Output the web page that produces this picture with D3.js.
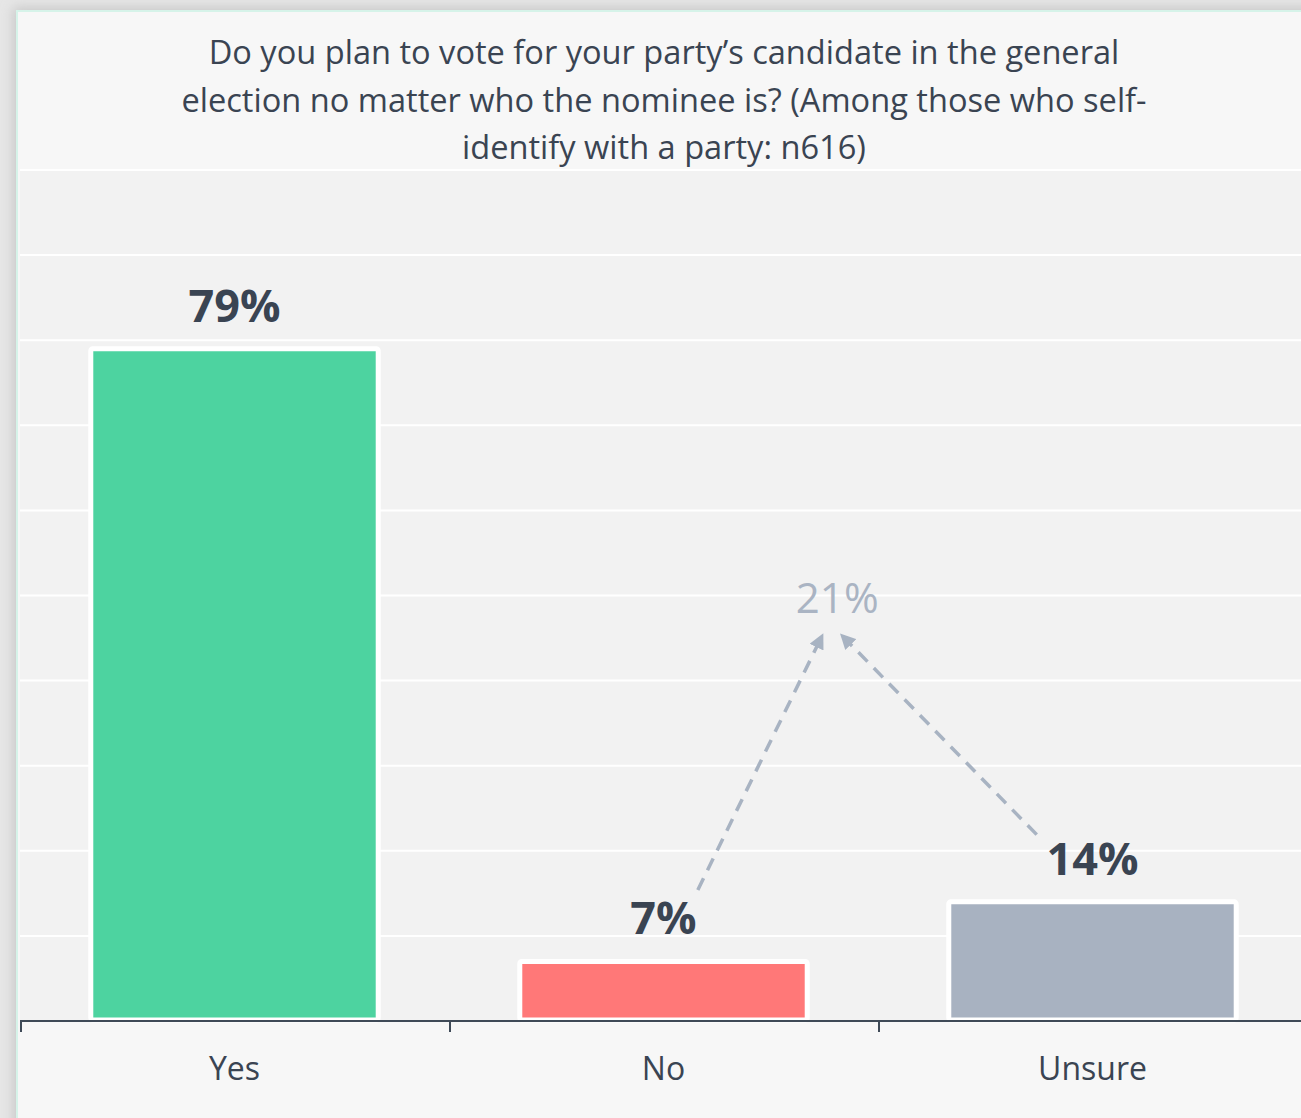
<!DOCTYPE html>
<html><head><meta charset="utf-8">
<script src="https://cdn.jsdelivr.net/npm/d3@7"></script>
<style>
html,body{margin:0;padding:0;background:#e2e2e2;overflow:hidden;}
svg{display:block;}
</style></head>
<body>
<svg id="chart" width="1301" height="1118"></svg>
<script>
// ---- data ----
const categories = ["Yes", "No", "Unsure"];
const values = [79, 7, 14];
const barColors = ["#4dd3a0", "#ff7878", "#a8b2c1"];
const valueLabels = ["79%", "7%", "14%"];
const gridTicks = [0, 10, 20, 30, 40, 50, 60, 70, 80, 90, 100];
const titleLines = [
  "Do you plan to vote for your party\u2019s candidate in the general",
  "election no matter who the nominee is? (Among those who self-",
  "identify with a party: n616)"
];
// annotation: combined No + Unsure
const annotationLabel = "21%";
const annotationValueY = 48;      // label position on value axis
const arrowTipY = 45.4;           // arrow tips on value axis
const arrowStarts = [ {cat: "No", off: 0.08, v: 15.4}, {cat: "Unsure", off: -0.13, v: 21.9} ];
const arrowTipsOff = [-0.034, 0.009]; // fraction of band from the label centre

// ---- layout ----
const W = 1301, H = 1118;
const svg = d3.select("#chart");
const font = "'Open Sans', 'Noto Sans', sans-serif";
const textColor = "#3a4452";

const defs = svg.append("defs");
const f = defs.append("filter").attr("id","sh").attr("x","-10%").attr("y","-10%").attr("width","130%").attr("height","130%");
f.append("feGaussianBlur").attr("stdDeviation", 6);

svg.append("rect").attr("width", W).attr("height", H).attr("fill", "#e6e6e6");
svg.append("rect").attr("x", 13).attr("y", 7).attr("width", 1420).attr("height", 1220)
  .attr("fill", "#c9c9c9").attr("filter", "url(#sh)");
svg.append("rect").attr("x", 17).attr("y", 11).attr("width", 1400).attr("height", 1200)
  .attr("fill", "#f7f7f7").attr("stroke", "#d6f3e9").attr("stroke-width", 2);

const plot = {left: 20, right: 1307, top: 170, bottom: 1021};

const x = d3.scaleBand().domain(categories).range([plot.left, plot.right]).paddingInner(0.33).paddingOuter(0.165);
const xAxisScale = d3.scaleBand().domain(categories).range([plot.left, plot.right]);
const y = d3.scaleLinear().domain([0, 100]).range([plot.bottom, plot.top]);

// plot background
svg.append("rect").attr("x", plot.left).attr("y", plot.top)
  .attr("width", plot.right - plot.left).attr("height", plot.bottom - plot.top).attr("fill", "#f2f2f2");

// gridlines
svg.append("g").selectAll("line").data(gridTicks).join("line")
  .attr("x1", plot.left).attr("x2", plot.right)
  .attr("y1", d => y(d)).attr("y2", d => y(d))
  .attr("stroke", "#ffffff").attr("stroke-width", 2);

// title
svg.append("g").selectAll("text").data(titleLines).join("text")
  .attr("x", 664).attr("y", (d, i) => 64 + i * 47.5)
  .attr("text-anchor", "middle")
  .attr("font-family", font).attr("font-size", 32.6).attr("fill", textColor)
  .text(d => d);

// bars
const data = categories.map((c, i) => ({c, v: values[i], col: barColors[i], lab: valueLabels[i]}));
svg.append("g").selectAll("rect").data(data).join("rect")
  .attr("x", d => x(d.c)).attr("width", x.bandwidth())
  .attr("y", d => y(d.v)).attr("height", d => y(0) - y(d.v) - 1)
  .attr("fill", d => d.col).attr("stroke", "#ffffff").attr("stroke-width", 5)
  .attr("rx", 2);

// value labels
svg.append("g").selectAll("text").data(data).join("text")
  .attr("x", d => x(d.c) + x.bandwidth() / 2).attr("y", d => y(d.v) - 27)
  .attr("text-anchor", "middle")
  .attr("font-family", font).attr("font-weight", 700).attr("font-size", 45).attr("fill", textColor)
  .text(d => d.lab);

// x axis
svg.append("line").attr("x1", plot.left).attr("x2", plot.right).attr("y1", plot.bottom).attr("y2", plot.bottom)
  .attr("stroke", "#3f4a57").attr("stroke-width", 2);
svg.append("g").selectAll("line").data(categories).join("line")
  .attr("x1", d => xAxisScale(d) + 1).attr("x2", d => xAxisScale(d) + 1)
  .attr("y1", plot.bottom).attr("y2", plot.bottom + 11)
  .attr("stroke", "#3f4a57").attr("stroke-width", 2);
svg.append("g").selectAll("text").data(categories).join("text")
  .attr("x", d => xAxisScale(d) + xAxisScale.bandwidth() / 2).attr("y", 1080)
  .attr("text-anchor", "middle")
  .attr("font-family", font).attr("font-size", 32).attr("fill", textColor)
  .text(d => d);

// annotation arrows
const arrowColor = "#a8b3c2";
defs.append("marker").attr("id", "ah").attr("viewBox", "0 0 10 10").attr("refX", 9).attr("refY", 5)
  .attr("markerWidth", 4.4).attr("markerHeight", 4.4).attr("orient", "auto").attr("markerUnits", "strokeWidth")
  .append("path").attr("d", "M0,0 L10,5 L0,10 z").attr("fill", arrowColor);
const bw = xAxisScale.bandwidth();
const labelX = xAxisScale("No") + bw / 2 + 0.405 * bw;
arrowStarts.forEach((s, i) => {
  const sx = x(s.cat) + x.bandwidth() / 2 + s.off * bw;
  const tx = labelX + arrowTipsOff[i] * bw;
  svg.append("line")
    .attr("x1", sx).attr("y1", y(s.v))
    .attr("x2", tx).attr("y2", y(arrowTipY))
    .attr("stroke", arrowColor).attr("stroke-width", 3.5)
    .attr("stroke-dasharray", "13,9")
    .attr("marker-end", "url(#ah)");
});
svg.append("text")
  .attr("x", labelX).attr("y", y(annotationValueY))
  .attr("text-anchor", "middle")
  .attr("font-family", font).attr("font-size", 42).attr("fill", "#aab4c3")
  .text(annotationLabel);
</script>
</body></html>
